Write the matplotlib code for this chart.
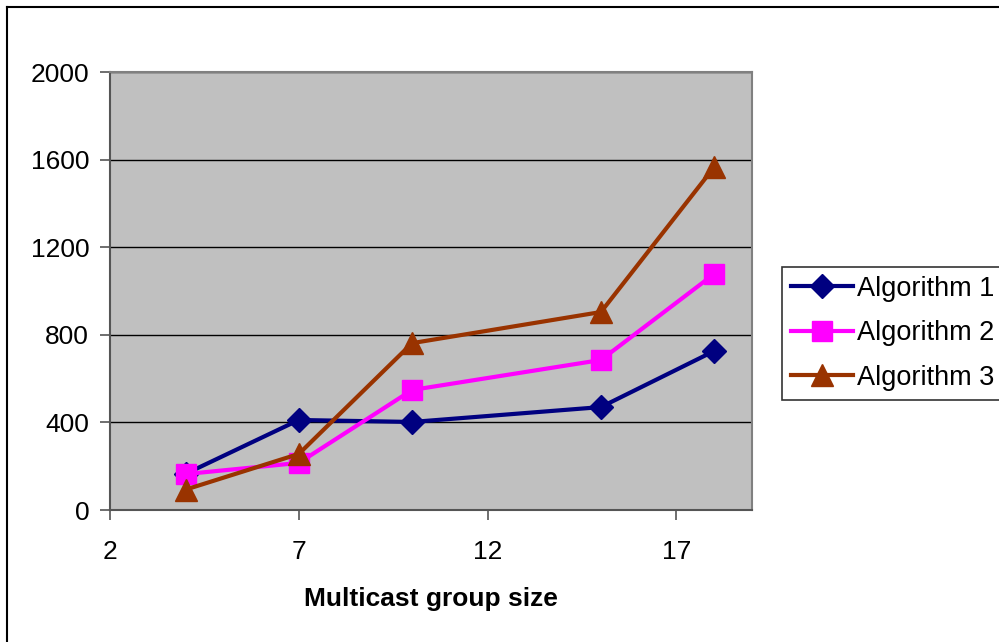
import matplotlib.pyplot as plt
from matplotlib.lines import Line2D

plt.rcParams['font.family'] = ['Liberation Sans', 'DejaVu Sans']

group_size = [4, 7, 10, 15, 18]
alg1 = [165, 411, 402, 470, 726]
alg2 = [164, 215, 548, 685, 1078]
alg3 = [93, 256, 762, 904, 1566]

x_ticks = [2, 7, 12, 17]
y_ticks = [0, 400, 800, 1200, 1600, 2000]

fig = plt.figure(figsize=(9.99, 6.42), dpi=100)
ax = fig.add_axes([110/999, 1 - 510/642, (752-110)/999, (510-72)/642])
ax.set_facecolor('#C0C0C0')

ax.plot(group_size, alg1, color='#000080', lw=3, marker='D', ms=12, label='Algorithm 1')
ax.plot(group_size, alg2, color='#FF00FF', lw=3, marker='s', ms=14, label='Algorithm 2')
ax.plot(group_size, alg3, color='#993300', lw=3, marker='^', ms=16, label='Algorithm 3')

ax.set_xlim(2, 19)
ax.set_ylim(0, 2000)
ax.set_xticks(x_ticks)
ax.set_yticks(y_ticks)
ax.yaxis.grid(True, color='black', lw=1)
ax.set_axisbelow(True)
ax.tick_params(labelsize=19, length=7, width=1.2, color='#555555', pad=8)
ax.tick_params(axis='x', pad=14.5)
for side in ['left', 'bottom']:
    ax.spines[side].set_color('#555555')
    ax.spines[side].set_linewidth(1.5)
for side in ['top', 'right']:
    ax.spines[side].set_color('#808080')
    ax.spines[side].set_linewidth(1.5)

ax.set_xlabel('Multicast group size', fontsize=19, fontweight='bold', labelpad=17)

leg = fig.legend(loc='upper left', bbox_to_anchor=(782/999, 1 - 267/642),
                 fontsize=19.5, frameon=True, fancybox=False, edgecolor='black',
                 handlelength=2.3, handletextpad=0.15, labelspacing=0.68,
                 borderpad=0.33, borderaxespad=0)
leg.get_frame().set_linewidth(1.2)

# outer chart border (left and top only visible)
fig.add_artist(Line2D([7/999, 7/999], [0, 1 - 7/642], color='black', lw=1.5))
fig.add_artist(Line2D([7/999, 1], [1 - 7/642, 1 - 7/642], color='black', lw=1.5))

fig.savefig('out.png', dpi=100)
